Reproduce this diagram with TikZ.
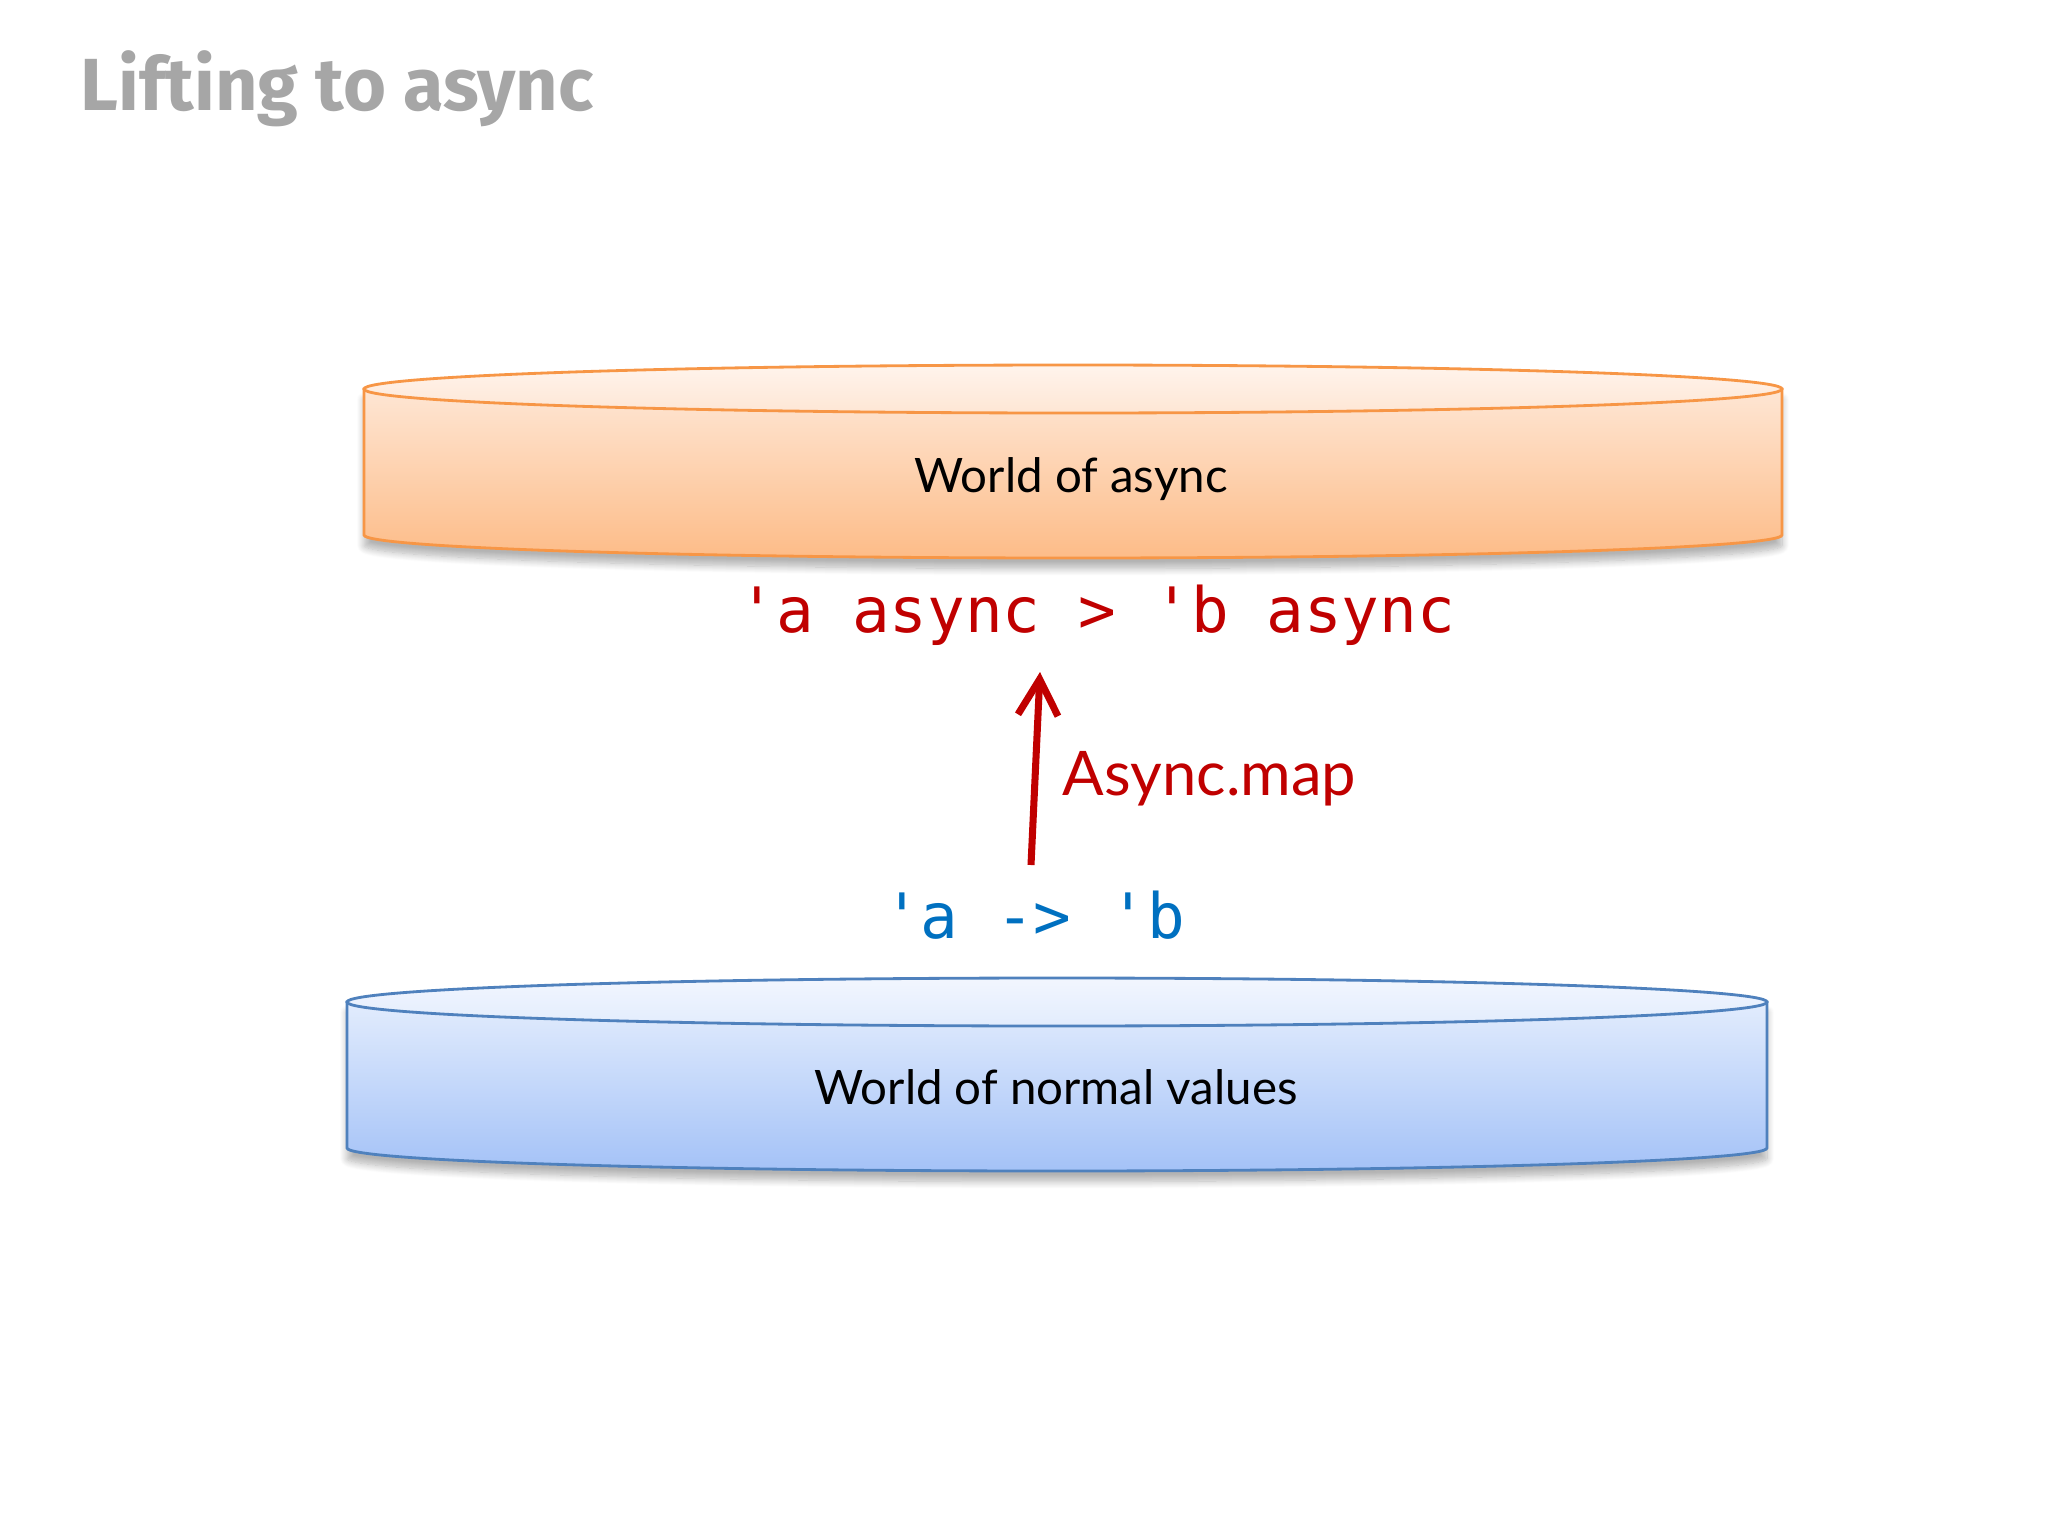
\documentclass[tikz,border=0pt]{standalone}
\usepackage{fontspec}
\setmainfont{Lato}
\setmonofont{DejaVu Sans Mono}
\newfontfamily\titlefont{Fira Sans}
\usetikzlibrary{arrows.meta,shadows.blur}

\definecolor{asyncedge}{RGB}{247,150,70}
\definecolor{asynctop}{RGB}{254,230,212}
\definecolor{asyncbot}{RGB}{253,188,136}
\definecolor{asynclid}{RGB}{255,244,236}
\definecolor{normaledge}{RGB}{79,129,189}
\definecolor{normaltop}{RGB}{226,236,253}
\definecolor{normalbot}{RGB}{164,194,247}
\definecolor{normallid}{RGB}{242,246,254}
\definecolor{codered}{RGB}{192,0,0}
\definecolor{codeblue}{RGB}{0,112,192}
\definecolor{titlegray}{RGB}{166,166,166}

\tikzset{
  worldlabel/.style={font=\fontsize{13.5pt}{16pt}\selectfont, anchor=base, inner sep=0pt},
  codelabel/.style={font=\ttfamily\fontsize{17.8pt}{20pt}\selectfont, anchor=base, inner sep=0pt},
  maparrow/.style={codered, line width=2pt, -{Straight Barb[length=3.6mm,width=4mm]}},
  worldshadow/.style={blur shadow={shadow xshift=0pt, shadow yshift=-3pt, shadow opacity=30, shadow blur steps=10}},
  worldedge/.style={line width=0.8pt}
}

\begin{document}
\begin{tikzpicture}[x=0.01cm,y=-0.01cm]
    \useasboundingbox (0,0) rectangle (2048,1536);

    % title
    \node[anchor=base west, inner sep=0pt, text=titlegray, font=\titlefont\bfseries\fontsize{21pt}{25pt}\selectfont] (title) at (80,110) {Lifting to async};

    % world of async
    \shade[worldshadow, worldedge, top color=asynctop, bottom color=asyncbot, draw=asyncedge]
      (364,389) -- (364,535) arc[start angle=180, end angle=0, x radius=709, y radius=23] -- (1782,389) -- cycle;
    \shade[worldedge, top color=asynclid, bottom color=asynctop, draw=asyncedge] (1073,389) ellipse[x radius=709, y radius=24];
    \node[worldlabel] (async) at (1071,492) {World of async};

    % world of normal values
    \shade[worldshadow, worldedge, top color=normaltop, bottom color=normalbot, draw=normaledge]
      (347,1002) -- (347,1148) arc[start angle=180, end angle=0, x radius=710, y radius=23] -- (1767,1002) -- cycle;
    \shade[worldedge, top color=normallid, bottom color=normaltop, draw=normaledge] (1057,1002) ellipse[x radius=710, y radius=24];
    \node[worldlabel] (normal) at (1056,1104) {World of normal values};

    % signatures
    \node[codelabel, text=codered] (lifted) at (1097,632) {\textquotesingle a async > \textquotesingle b async};
    \node[codelabel, text=codeblue] (fn) at (1034,938) {\textquotesingle a -> \textquotesingle b};

    % lifting arrow
    \coordinate (mapfrom) at (1031,865);
    \coordinate (mapto) at (1040,672);
    \draw[maparrow] (mapfrom) -- (mapto);
    \node[anchor=base west, inner sep=0pt, text=codered, font=\fontsize{17.5pt}{21pt}\selectfont] (maplabel) at (1062,795) {Async.map};

\end{tikzpicture}
\end{document}
